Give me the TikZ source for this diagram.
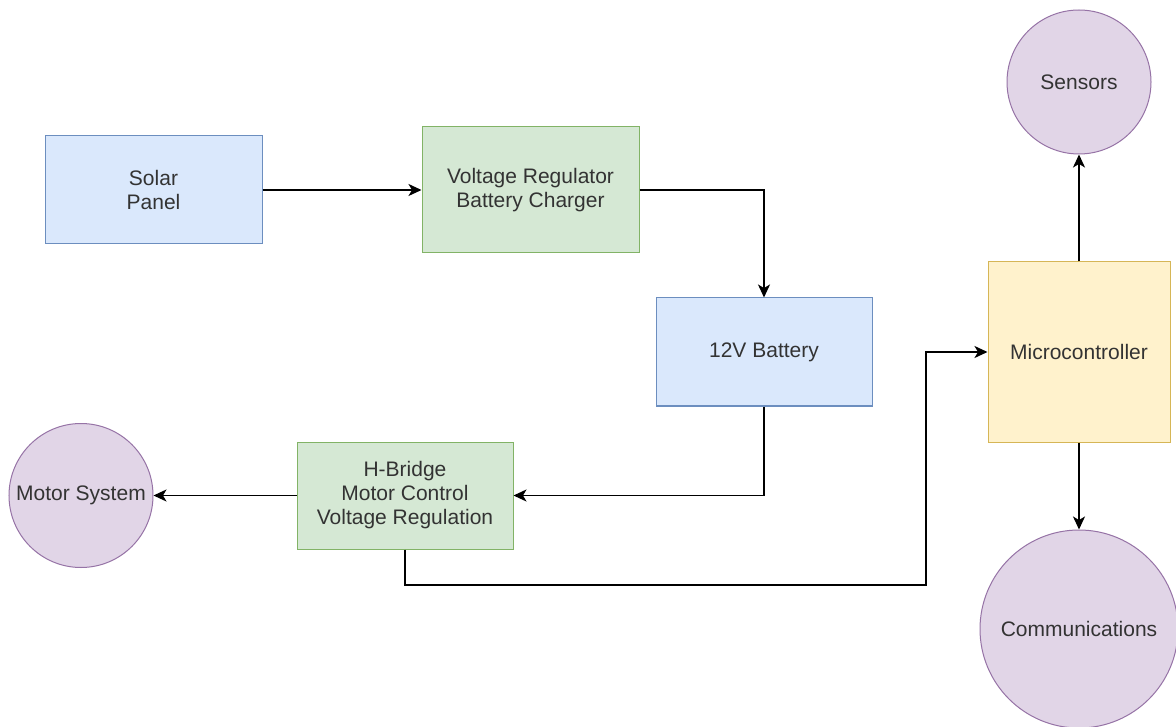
\documentclass[tikz,border=0pt]{standalone}
\usepackage{fontspec}
\setmainfont{Liberation Sans}
\usetikzlibrary{arrows.meta}
\definecolor{bluefill}{HTML}{DAE8FC}
\definecolor{bluestroke}{HTML}{6C8EBF}
\definecolor{greenfill}{HTML}{D5E8D4}
\definecolor{greenstroke}{HTML}{82B366}
\definecolor{yellowfill}{HTML}{FFF2CC}
\definecolor{yellowstroke}{HTML}{D6B656}
\definecolor{purplefill}{HTML}{E1D5E7}
\definecolor{purplestroke}{HTML}{9673A6}
\definecolor{txt}{HTML}{333333}
\begin{document}
\begin{tikzpicture}[x=1pt,y=-1pt,
  base/.style={inner sep=0pt, align=center, text=txt, line width=1pt,
    font=\fontsize{21}{24}\selectfont},
  bluebox/.style={base, rectangle, draw=bluestroke, fill=bluefill},
  greenbox/.style={base, rectangle, draw=greenstroke, fill=greenfill},
  yellowbox/.style={base, rectangle, draw=yellowstroke, fill=yellowfill},
  bubble/.style={base, circle, draw=purplestroke, fill=purplefill},
  conn/.style={draw=black, line width=1.5pt, -{Stealth[length=13pt,width=12pt,inset=3.5pt]}}
]
\useasboundingbox (0,0) rectangle (1176,727);
\fill[white] (0,0) rectangle (1176,727);

\node[bluebox, minimum width=217pt, minimum height=108pt] (solar) at (153.5,190) {Solar\\Panel};
\node[greenbox, minimum width=217pt, minimum height=126pt] (vreg) at (530.5,190) {Voltage Regulator\\Battery Charger};
\node[bluebox, minimum width=216pt, minimum height=108pt] (batt) at (764,352) {12V Battery};
\node[greenbox, minimum width=216pt, minimum height=107pt] (hbridge) at (405,495.5) {H-Bridge\\Motor Control\\Voltage Regulation};
\node[yellowbox, minimum width=182pt, minimum height=180pt] (mcu) at (1079,352) {Microcontroller};
\node[bubble, minimum size=144pt] (sensors) at (1079,82) {Sensors};
\node[bubble, minimum size=144pt] (motor) at (81,495.5) {Motor System};
\node[bubble, minimum size=198pt] (comm) at (1079,629) {Communications};

\coordinate (j1) at (926,585);

\draw[conn] (solar.east) -- (vreg.west);
\draw[conn] (vreg.east) -| (batt.north);
\draw[conn] (batt.south) |- (hbridge.east);
\draw[conn] (hbridge.west) -- (motor.east);
\draw[conn] (hbridge.south) |- (j1) |- (mcu.west);
\draw[conn] (mcu.north) -- (sensors.south);
\draw[conn] (mcu.south) -- (comm.north);
\end{tikzpicture}
\end{document}
